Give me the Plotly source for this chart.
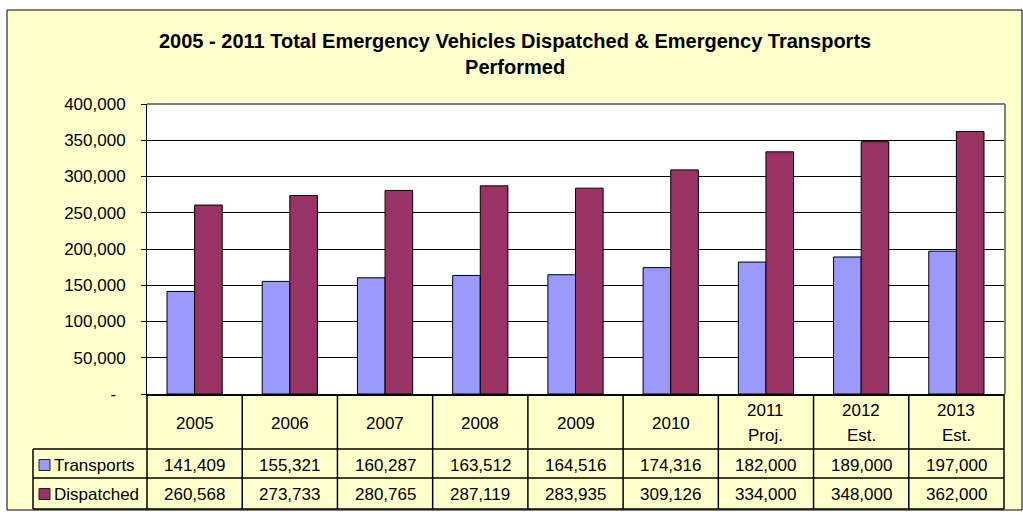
import plotly.graph_objects as go

# ---------------- data ----------------
categories = ["2005", "2006", "2007", "2008", "2009", "2010",
              "2011\nProj.", "2012\nEst.", "2013\nEst."]
transports = [141409, 155321, 160287, 163512, 164516, 174316, 182000, 189000, 197000]
dispatched = [260568, 273733, 280765, 287119, 283935, 309126, 334000, 348000, 362000]
series_names = ["Transports", "Dispatched"]
y_ticks = [0, 50000, 100000, 150000, 200000, 250000, 300000, 350000, 400000]
title_lines = ["2005 - 2011 Total Emergency Vehicles Dispatched & Emergency Transports",
               "Performed"]

# ---------------- style ----------------
C_T = "#9999FF"
C_D = "#993366"
BG = "#FFFFCC"
FONT = "Liberation Sans, Arial, sans-serif"
W, H = 1023, 515
PX0, PX1, PY0, PY1 = 147, 1004, 104, 394   # plot area in pixels

XMIN, XMAX = -0.5, len(categories) - 0.5
x_idx = list(range(len(categories)))


def fx(px):
    return (px - PX0) / (PX1 - PX0)


def fy(py):
    return (PY1 - py) / (PY1 - PY0)


def cat_paper(v):
    return (v - XMIN) / (XMAX - XMIN)


fig = go.Figure()
fig.add_bar(x=x_idx, y=transports, name=series_names[0],
            marker=dict(color=C_T, line=dict(color="black", width=1)))
fig.add_bar(x=x_idx, y=dispatched, name=series_names[1],
            marker=dict(color=C_D, line=dict(color="black", width=1)))

shapes = []
# outer chart area
shapes.append(dict(type="rect", xref="paper", yref="paper",
                   x0=fx(7), x1=fx(1022), y0=fy(510), y1=fy(10),
                   fillcolor=BG, line=dict(color="black", width=1), layer="below"))
# plot area background
shapes.append(dict(type="rect", xref="paper", yref="paper", x0=0, x1=1, y0=0, y1=1,
                   fillcolor="white", line=dict(width=0), layer="below"))
# gray top/right border of plot area
shapes.append(dict(type="line", xref="paper", yref="paper", x0=0, x1=fx(1005), y0=1, y1=1,
                   line=dict(color="#808080", width=2), layer="above"))
shapes.append(dict(type="line", xref="paper", yref="paper", x0=fx(1005), x1=fx(1005), y0=0, y1=1,
                   line=dict(color="#808080", width=2), layer="above"))

# data table grid
LEG_X = 33
ROW_LINES = [449, 478, 509]
TL = dict(color="black", width=1.5)
for ry in ROW_LINES:
    shapes.append(dict(type="line", xref="paper", yref="paper",
                       x0=fx(LEG_X), x1=1, y0=fy(ry), y1=fy(ry), line=TL))
for k in range(len(categories) + 1):
    xp = cat_paper(k - 0.5)
    shapes.append(dict(type="line", xref="paper", yref="paper",
                       x0=xp, x1=xp, y0=0, y1=fy(ROW_LINES[-1]), line=TL))
shapes.append(dict(type="line", xref="paper", yref="paper",
                   x0=fx(LEG_X), x1=fx(LEG_X), y0=fy(ROW_LINES[0]), y1=fy(ROW_LINES[-1]), line=TL))

annotations = []
TXT = dict(family=FONT, size=17, color="black")
# header labels
for i, lab in enumerate(categories):
    parts = lab.split("\n")
    if len(parts) == 1:
        ys = [423]
    else:
        ys = [410, 435]
    for p, yy in zip(parts, ys):
        annotations.append(dict(x=cat_paper(i), y=fy(yy), xref="paper", yref="paper",
                                text=p, showarrow=False, xanchor="center", yanchor="middle",
                                font=TXT))
# value rows
row_centers = [465, 494]
for vals, yy in zip([transports, dispatched], row_centers):
    for i, v in enumerate(vals):
        annotations.append(dict(x=cat_paper(i), y=fy(yy), xref="paper", yref="paper",
                                text=f"{v:,}", showarrow=False, xanchor="center",
                                yanchor="middle", font=TXT))
# legend keys + names
for name, col, yy in zip(series_names, [C_T, C_D], row_centers):
    shapes.append(dict(type="rect", xref="paper", yref="paper",
                       x0=fx(39), x1=fx(50), y0=fy(yy + 5.5), y1=fy(yy - 5.5),
                       fillcolor=col, line=dict(color="#222222", width=1)))
    annotations.append(dict(x=fx(52), y=fy(yy), xref="paper", yref="paper",
                            text=name, showarrow=False, xanchor="left", yanchor="middle",
                            font=TXT))
# title
annotations.append(dict(x=fx(515), y=fy(54), xref="paper", yref="paper",
                        text="<b>" + "<br>".join(title_lines) + "</b>", showarrow=False,
                        xanchor="center", yanchor="middle",
                        font=dict(family=FONT, size=20, color="black")))

tick_text = [f"{v:,}" if v else "-\u00a0\u00a0" for v in y_ticks]

fig.update_layout(
    width=W, height=H,
    margin=dict(l=PX0, r=W - PX1, t=PY0, b=H - PY1, pad=0),
    paper_bgcolor="white", plot_bgcolor="white",
    barmode="group", bargap=0.42, bargroupgap=0,
    showlegend=False,
    shapes=shapes, annotations=annotations,
    font=dict(family=FONT, size=17, color="black"),
)
fig.update_xaxes(range=[XMIN, XMAX], showticklabels=False, showgrid=False, zeroline=False,
                 showline=True, linecolor="black", linewidth=1.5, ticks="")
fig.update_yaxes(range=[0, 400000], tickvals=y_ticks, ticktext=tick_text,
                 showgrid=True, gridcolor="black", gridwidth=1, zeroline=False,
                 ticks="outside", ticklen=5, tickcolor="black", tickwidth=1,
                 showline=True, linecolor="black", linewidth=1,
                 tickfont=dict(family=FONT, size=17, color="black"),
                 ticklabelstandoff=12)

fig.write_html("out.html", config={"displayModeBar": False},
               post_script="document.body.style.margin='0';document.body.style.overflow='hidden';")
